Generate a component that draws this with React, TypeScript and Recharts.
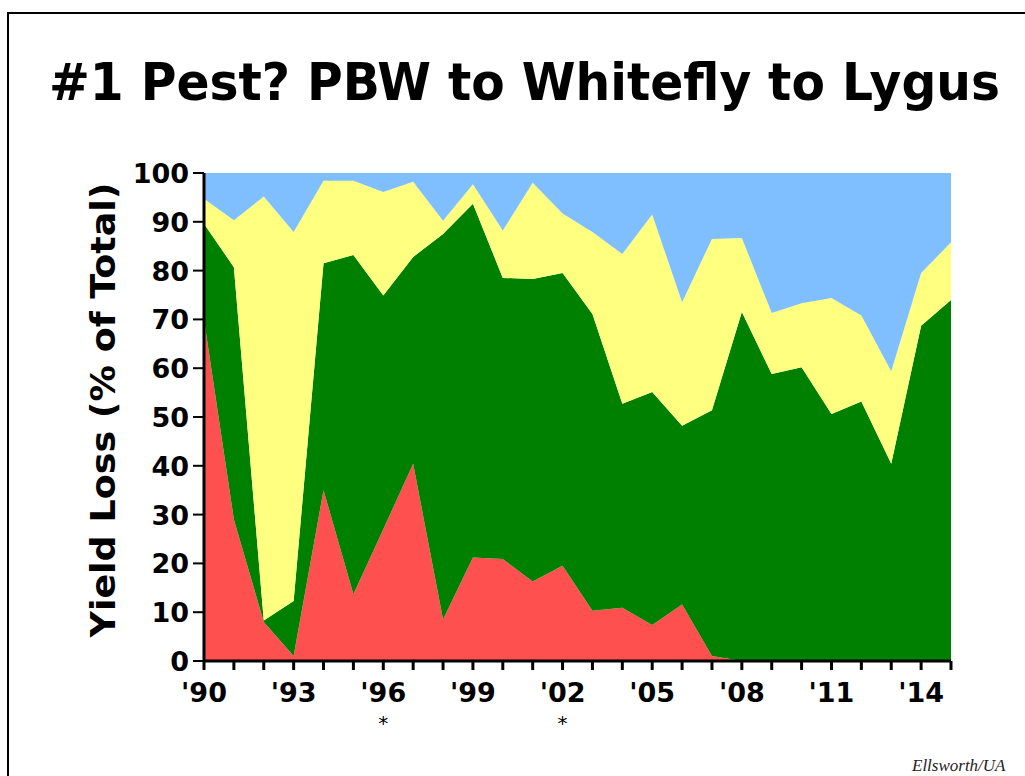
import { AreaChart, Area, XAxis, YAxis } from 'recharts';

const years = [
  1990, 1991, 1992, 1993, 1994, 1995, 1996, 1997, 1998, 1999, 2000, 2001, 2002,
  2003, 2004, 2005, 2006, 2007, 2008, 2009, 2010, 2011, 2012, 2013, 2014, 2015,
];
const pbw = [70, 29, 8, 1, 35, 13.7, 27, 40.4, 8.5, 21.2, 20.9, 16.3, 19.5, 10.3, 10.9, 7.4, 11.6, 1, 0, 0, 0, 0, 0, 0, 0, 0];
const lygus = [19.6, 51.7, 0.3, 11.3, 46.5, 69.5, 47.9, 42.4, 79, 72.5, 57.6, 62, 60, 60.8, 41.8, 47.7, 36.6, 50.4, 71.5, 58.8, 60.2, 50.6, 53.2, 40.4, 68.7, 74];
const whitefly = [5.1, 9.6, 86.9, 75.6, 16.9, 15.2, 21.2, 15.4, 2.7, 4, 9.7, 19.7, 12.2, 16.8, 30.7, 36.4, 25.3, 35.1, 15.2, 12.5, 13.1, 23.8, 17.6, 19, 10.8, 11.8];
const other = [5.3, 9.7, 4.8, 12.1, 1.6, 1.6, 3.9, 1.8, 9.8, 2.3, 11.8, 2, 8.3, 12.1, 16.6, 8.5, 26.5, 13.5, 13.3, 28.7, 26.7, 25.6, 29.2, 40.6, 20.5, 14.2];

const labeledYears = [1990, 1993, 1996, 1999, 2002, 2005, 2008, 2011, 2014];
const starredYears = [1996, 2002];
const yTicks = [0, 10, 20, 30, 40, 50, 60, 70, 80, 90, 100];

const FONT = '"DejaVu Sans", Verdana, sans-serif';

const data = years.map((year, i) => ({
  year,
  pbw: pbw[i],
  lygus: lygus[i],
  whitefly: whitefly[i],
  other: other[i],
}));

function XTick(props: any) {
  const { x, y, payload } = props;
  const yr = payload.value as number;
  if (!labeledYears.includes(yr)) return null;
  const label = "'" + String(yr).slice(2);
  return (
    <g>
      <text x={x} y={y + 30} textAnchor="middle" fontFamily={FONT} fontWeight="bold" fontSize={27} fill="#000">
        {label}
      </text>
      {starredYears.includes(yr) && (
        <text x={x} y={y + 58} textAnchor="middle" fontFamily={FONT} fontSize={20} fill="#000">
          *
        </text>
      )}
    </g>
  );
}

function YTick(props: any) {
  const { x, y, payload } = props;
  return (
    <text x={x - 2} y={y + 10} textAnchor="end" fontFamily={FONT} fontWeight="bold" fontSize={27} fill="#000">
      {payload.value}
    </text>
  );
}

export default function App() {
  return (
    <div
      style={{
        position: 'fixed',
        top: 0,
        left: 0,
        width: 1025,
        height: 776,
        background: '#fff',
        overflow: 'hidden',
      }}
    >
      <div
        style={{
          position: 'absolute',
          left: 7,
          top: 12,
          width: 1100,
          height: 900,
          border: '2px solid #000',
        }}
      />
      <svg width={1025} height={776} style={{ position: 'absolute', left: 0, top: 0 }}>
        <text
          transform="translate(49, 100) scale(1, 1.22)"
          x={0}
          y={0}
          textLength={951}
          lengthAdjust="spacingAndGlyphs"
          fontFamily={FONT}
          fontWeight="bold"
          fontSize={42}
          fill="#000"
        >
          #1 Pest? PBW to Whitefly to Lygus
        </text>
        <text
          transform="translate(115, 410) rotate(-90)"
          textAnchor="middle"
          textLength={455}
          lengthAdjust="spacingAndGlyphs"
          fontFamily={FONT}
          fontWeight="bold"
          fontSize={33}
          fill="#000"
        >
          Yield Loss (% of Total)
        </text>
        <text
          x={912}
          y={771}
          fontFamily='"Liberation Serif", serif'
          fontStyle="italic"
          fontSize={17}
          fill="#222"
        >
          Ellsworth/UA
        </text>
      </svg>
      <div style={{ position: 'absolute', left: 0, top: 0 }}>
        <AreaChart
          width={1025}
          height={776}
          data={data}
          margin={{ top: 173, right: 74, bottom: 55, left: 104 }}
        >
          <XAxis
            dataKey="year"
            type="number"
            domain={[1990, 2015]}
            ticks={years}
            interval={0}
            height={60}
            tickSize={9}
            axisLine={{ stroke: '#000', strokeWidth: 3 }}
            tickLine={{ stroke: '#000', strokeWidth: 3 }}
            tick={<XTick />}
          />
          <YAxis
            type="number"
            domain={[0, 100]}
            ticks={yTicks}
            interval={0}
            width={100}
            tickSize={11}
            allowDataOverflow
            axisLine={{ stroke: '#000', strokeWidth: 3 }}
            tickLine={{ stroke: '#000', strokeWidth: 2 }}
            tick={<YTick />}
          />
          <Area type="linear" dataKey="pbw" stackId="a" stroke="none" fill="#ff5050" fillOpacity={1} isAnimationActive={false} />
          <Area type="linear" dataKey="lygus" stackId="a" stroke="none" fill="#008000" fillOpacity={1} isAnimationActive={false} />
          <Area type="linear" dataKey="whitefly" stackId="a" stroke="none" fill="#ffff80" fillOpacity={1} isAnimationActive={false} />
          <Area type="linear" dataKey="other" stackId="a" stroke="none" fill="#80bfff" fillOpacity={1} isAnimationActive={false} />
        </AreaChart>
      </div>
    </div>
  );
}
